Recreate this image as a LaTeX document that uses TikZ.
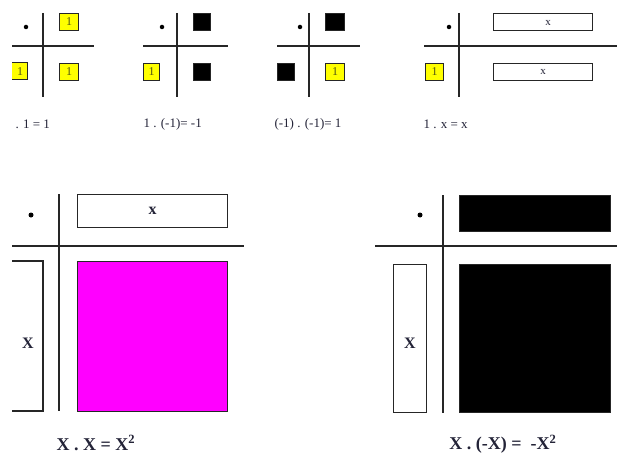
\documentclass[tikz,border=0pt]{standalone}
\usepackage{fontspec}
\setmainfont{Liberation Serif}
\definecolor{unitfill}{RGB}{255,255,0}
\definecolor{unittext}{RGB}{80,85,20}
\definecolor{squarefill}{RGB}{255,0,255}
\definecolor{labeltext}{RGB}{35,35,55}
\begin{document}
\begin{tikzpicture}[x=1pt,y=-1pt,
  axis/.style={line width=1.2pt,draw=black!85},
  tile/.style={draw=black!85,line width=1pt,inner sep=0pt,anchor=north west},
  unittile/.style={tile,fill=unitfill,text=unittext,font=\fontsize{12}{12}\selectfont},
  negtile/.style={tile,fill=black},
  xtile/.style={tile,fill=white},
  smallx/.style={text=labeltext,font=\fontsize{11}{11}\selectfont},
  origin/.style={circle,fill=black,inner sep=0pt,minimum size=4.5pt},
  smalllabel/.style={text=labeltext,font=\fontsize{13}{14}\selectfont,anchor=west},
  biglabel/.style={text=labeltext,font=\fontsize{18}{20}\bfseries\selectfont},
  bigx/.style={text=labeltext,font=\fontsize{16}{16}\bfseries\selectfont}]
\useasboundingbox (0,0) rectangle (617,454);

% ---- 1 . 1 = 1
\node[origin] (o1) at (26,27) {};
\draw[axis] (43,13) -- (43,97);
\draw[axis] (12,46) -- (94,46);
\node[unittile,minimum width=19pt,minimum height=17pt] (a1) at (59,13) {1};
\fill[unitfill] (12,63) rectangle (27,80);
\draw[draw=black!85,line width=1pt] (12,63) -- (27,63) -- (27,80) -- (12,80);
\node[text=unittext,font=\fontsize{12}{12}\selectfont] (b1) at (20,71.5) {1};
\node[unittile,minimum width=19pt,minimum height=17pt] (c1) at (59,63) {1};
\node[smalllabel] (l1) at (12,124) {. 1 = 1};

% ---- 1 . (-1) = -1
\node[origin] (o2) at (162,27) {};
\draw[axis] (177,13) -- (177,97);
\draw[axis] (143,46) -- (228,46);
\node[negtile,minimum width=17pt,minimum height=17pt] (a2) at (193,13) {};
\node[unittile,minimum width=16pt,minimum height=17pt] (b2) at (143,63) {1};
\node[negtile,minimum width=17pt,minimum height=17pt] (c2) at (193,63) {};
\node[smalllabel] (l2) at (140,124) {1 . (-1)= -1};

% ---- (-1) . (-1) = 1
\node[origin] (o3) at (300,27) {};
\draw[axis] (309,13) -- (309,97);
\draw[axis] (277,46) -- (360,46);
\node[negtile,minimum width=19pt,minimum height=17pt] (a3) at (325,13) {};
\node[negtile,minimum width=17pt,minimum height=17pt] (b3) at (277,63) {};
\node[unittile,minimum width=19pt,minimum height=17pt] (c3) at (325,63) {1};
\node[smalllabel] (l3) at (271,124) {(-1) . (-1)= 1};

% ---- 1 . x = x
\node[origin] (o4) at (449,27) {};
\draw[axis] (459,13) -- (459,97);
\draw[axis] (424,46) -- (617,46);
\node[xtile,minimum width=99pt,minimum height=17pt] (a4) at (493,13) {};
\node[smallx] (ax) at (548,23) {x};
\node[unittile,minimum width=18pt,minimum height=17pt] (b4) at (425,63) {1};
\node[xtile,minimum width=99pt,minimum height=17pt,smallx] (c4) at (493,63) {x};
\node[smalllabel] (l4) at (420,124) {1 . x = x};

% ---- x . x = x^2
\node[origin,minimum size=5pt] (o5) at (31,215) {};
\draw[axis] (59,194) -- (59,411);
\draw[axis] (12,246) -- (244,246);
\node[tile,fill=white,minimum width=150pt,minimum height=33pt,bigx] (a5) at (77,194) {x};
\draw[draw=black!85,line width=1.1pt] (12,261) -- (43,261) -- (43,411) -- (12,411);
\node[bigx] (b5) at (28,343) {X};
\node[tile,fill=squarefill,minimum width=150pt,minimum height=150pt] (c5) at (77,261) {};
\node[biglabel] (l5) at (96,443) {X . X = X\textsuperscript{2}};

% ---- x . (-x) = -x^2
\node[origin,minimum size=5pt] (o6) at (420,215) {};
\draw[axis] (443,195) -- (443,413);
\draw[axis] (375,246) -- (617,246);
\node[negtile,minimum width=151pt,minimum height=36pt] (a6) at (459,195) {};
\node[tile,fill=white,minimum width=33pt,minimum height=148pt] (b6) at (393,264) {};
\node[bigx] (b6x) at (410,343) {X};
\node[negtile,minimum width=151pt,minimum height=148pt] (c6) at (459,264) {};
\node[biglabel] (l6) at (503,444) {X . (-X) =\ \ -X\textsuperscript{2}};
\end{tikzpicture}
\end{document}
